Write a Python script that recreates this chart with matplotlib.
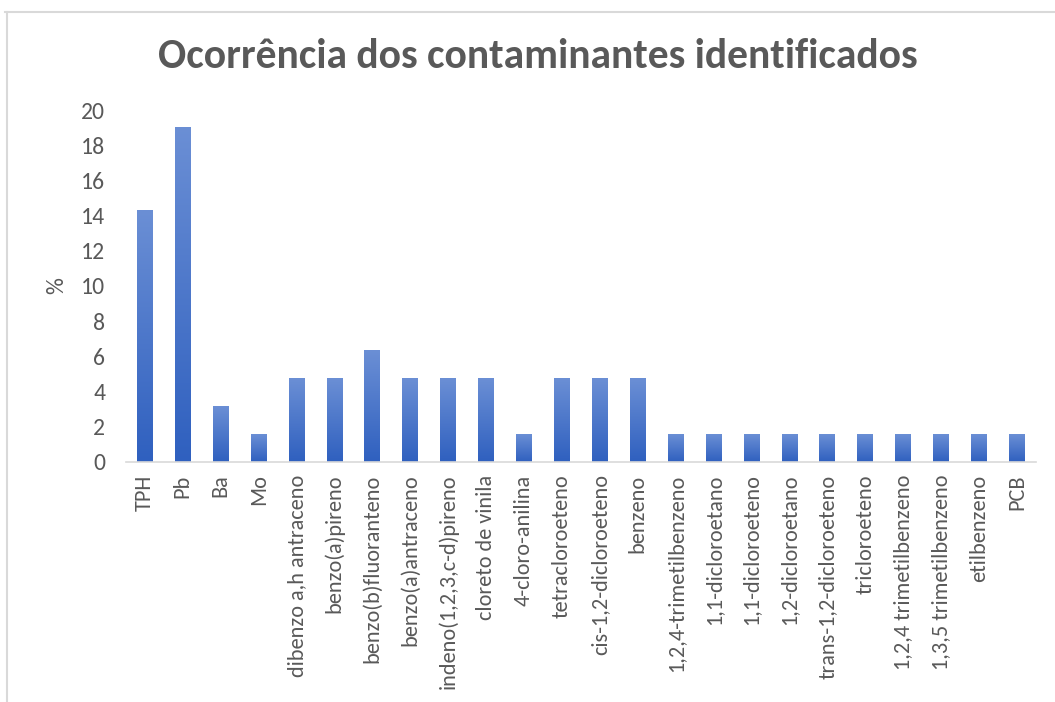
import numpy as np
import matplotlib
matplotlib.use("Agg")
import matplotlib.pyplot as plt
from matplotlib.colors import LinearSegmentedColormap
from matplotlib.lines import Line2D

categories = ["TPH", "Pb", "Ba", "Mo", "dibenzo a,h antraceno", "benzo(a)pireno",
              "benzo(b)fluoranteno", "benzo(a)antraceno", "indeno(1,2,3,c-d)pireno",
              "cloreto de vinila", "4-cloro-anilina", "tetracloroeteno",
              "cis-1,2-dicloroeteno", "benzeno", "1,2,4-trimetilbenzeno",
              "1,1-dicloroetano", "1,1-dicloroeteno", "1,2-dicloroetano",
              "trans-1,2-dicloroeteno", "tricloroeteno", "1,2,4 trimetilbenzeno",
              "1,3,5 trimetilbenzeno", "etilbenzeno", "PCB"]
values = [14.29, 19.05, 3.17, 1.59, 4.76, 4.76, 6.35, 4.76, 4.76, 4.76, 1.59, 4.76,
          4.76, 4.76, 1.59, 1.59, 1.59, 1.59, 1.59, 1.59, 1.59, 1.59, 1.59, 1.59]

plt.rcParams['font.family'] = ['Carlito', 'DejaVu Sans']
text_color = '#595959'

fig = plt.figure(figsize=(10.55, 7.02), dpi=100)
ax = fig.add_axes([0.1194, 0.3419, 0.8626, 0.5014])

x = np.arange(len(categories))
bars = ax.bar(x, values, width=0.42, color='none', edgecolor='none', zorder=2)

# vertical gradient inside each bar
cmap = LinearSegmentedColormap.from_list('g', ['#2f60bf', '#6b8fd5'])
grad = np.linspace(0, 1, 256).reshape(-1, 1)
for b in bars:
    x0, y0 = b.get_x(), b.get_y()
    w, h = b.get_width(), b.get_height()
    im = ax.imshow(grad, cmap=cmap, origin='lower', aspect='auto',
                   extent=[x0, x0 + w, y0, y0 + h], zorder=2)
    im.set_clip_path(b)

ax.set_xlim(-0.5, len(categories) - 0.5)
ax.set_ylim(0, 20)
ax.set_yticks(range(0, 21, 2))
ax.set_xticks(x)
ax.set_xticklabels(categories, rotation=90, fontsize=16, color=text_color)
ax.tick_params(axis='y', labelsize=17, colors=text_color, length=0, pad=15)
ax.tick_params(axis='x', length=0, pad=9)

for s in ['top', 'right', 'left']:
    ax.spines[s].set_visible(False)
ax.spines['bottom'].set_color('#d9d9d9')
ax.spines['bottom'].set_linewidth(1.2)

ax.set_ylabel('%', fontsize=17, color=text_color, labelpad=10)

fig.text(0.51, 0.919, 'Ocorrência dos contaminantes identificados', ha='center', va='center',
         fontsize=30, fontweight='bold', color=text_color)

# outer chart frame (partly cropped)
fig.add_artist(Line2D([0.005, 1.0], [0.983, 0.983], color='#d9d9d9', lw=1.5, transform=fig.transFigure))
fig.add_artist(Line2D([0.007, 0.007], [0.0, 0.983], color='#d9d9d9', lw=1.5, transform=fig.transFigure))

fig.savefig('out.png', dpi=100)
